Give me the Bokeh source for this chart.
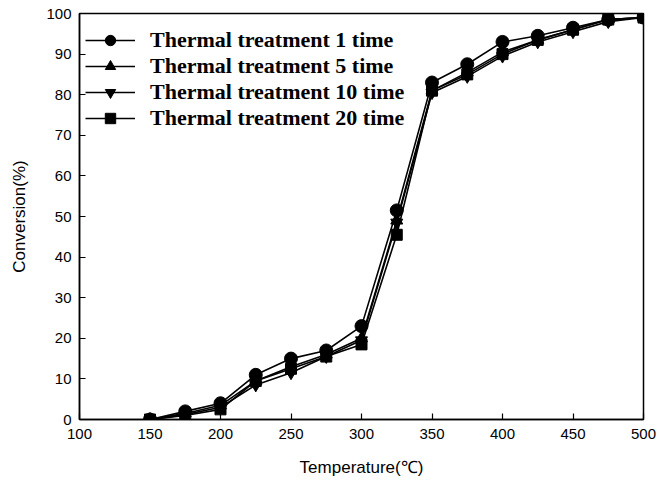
from bokeh.plotting import figure
from bokeh.models import Range1d, Legend, LegendItem, FixedTicker
from bokeh.embed import file_html
from bokeh.resources import INLINE

temps = [150, 175, 200, 225, 250, 275, 300, 325, 350, 375, 400, 425, 450, 475, 500]
t1 = [0, 2.0, 4.0, 11.0, 15.0, 17.0, 23.0, 51.5, 83.0, 87.5, 93.0, 94.5, 96.5, 98.5, 99.0]
t5 = [0, 1.5, 3.5, 9.5, 13.0, 16.0, 20.0, 49.0, 81.0, 85.5, 90.5, 93.5, 96.0, 98.5, 99.0]
t10 = [0, 1.2, 3.0, 8.5, 11.5, 15.5, 19.5, 48.5, 80.5, 84.5, 89.5, 93.0, 95.5, 98.0, 99.0]
t20 = [0, 1.0, 2.5, 9.5, 12.5, 15.5, 18.5, 45.5, 81.0, 85.0, 90.0, 93.5, 96.0, 98.5, 99.0]
labels = ["Thermal treatment 1 time", "Thermal treatment 5 time",
          "Thermal treatment 10 time", "Thermal treatment 20 time"]
markers = ["circle", "triangle", "inverted_triangle", "square"]
sizes = [13, 12, 12, 11]
x_ticks = [100, 150, 200, 250, 300, 350, 400, 450, 500]
y_ticks = [0, 10, 20, 30, 40, 50, 60, 70, 80, 90, 100]

p = figure(width=667, height=479, output_backend="svg", toolbar_location=None,
           x_range=Range1d(100, 500), y_range=Range1d(0, 100),
           min_border_left=79, min_border_right=24, min_border_top=13, min_border_bottom=57)
p.grid.visible = False
p.outline_line_color = "black"
p.outline_line_width = 1.5
p.background_fill_color = "white"
p.border_fill_color = "white"

items = []
for ys, lab, m, s in zip([t1, t5, t10, t20], labels, markers, sizes):
    r1 = p.line(temps, ys, line_color="black", line_width=1.6)
    r2 = p.scatter(temps, ys, marker=m, size=s, fill_color="black", line_color="black")
    items.append(LegendItem(label=lab, renderers=[r1, r2]))

legend = Legend(items=items, location=(6, 288), margin=0, padding=2, spacing=0,
                glyph_width=50, glyph_height=26, label_height=26, label_standoff=15,
                label_text_font="Liberation Serif", label_text_font_style="bold",
                label_text_font_size="22px", label_text_color="black",
                border_line_color=None, background_fill_alpha=0)
p.add_layout(legend, "center")

for ax in [p.xaxis[0], p.yaxis[0]]:
    ax.major_tick_in = 6
    ax.major_tick_out = 0
    ax.minor_tick_line_color = None
    ax.axis_line_width = 1.5
    ax.major_tick_line_width = 1.2
    ax.major_label_text_font = "Liberation Sans"
    ax.major_label_text_font_size = "15px"
    ax.major_label_text_color = "black"
    ax.axis_label_text_font = "Liberation Sans"
    ax.axis_label_text_font_size = "17px"
    ax.axis_label_text_font_style = "normal"
    ax.axis_label_text_color = "black"

p.xaxis[0].ticker = FixedTicker(ticks=x_ticks)
p.yaxis[0].ticker = FixedTicker(ticks=y_ticks)
p.xaxis[0].axis_label = "Temperature(℃)"
p.yaxis[0].axis_label = "Conversion(%)"
p.xaxis[0].major_label_standoff = 9
p.yaxis[0].major_label_standoff = 8
p.xaxis[0].axis_label_standoff = 16
p.yaxis[0].axis_label_standoff = 14

open("out.html", "w").write(file_html(p, INLINE))
